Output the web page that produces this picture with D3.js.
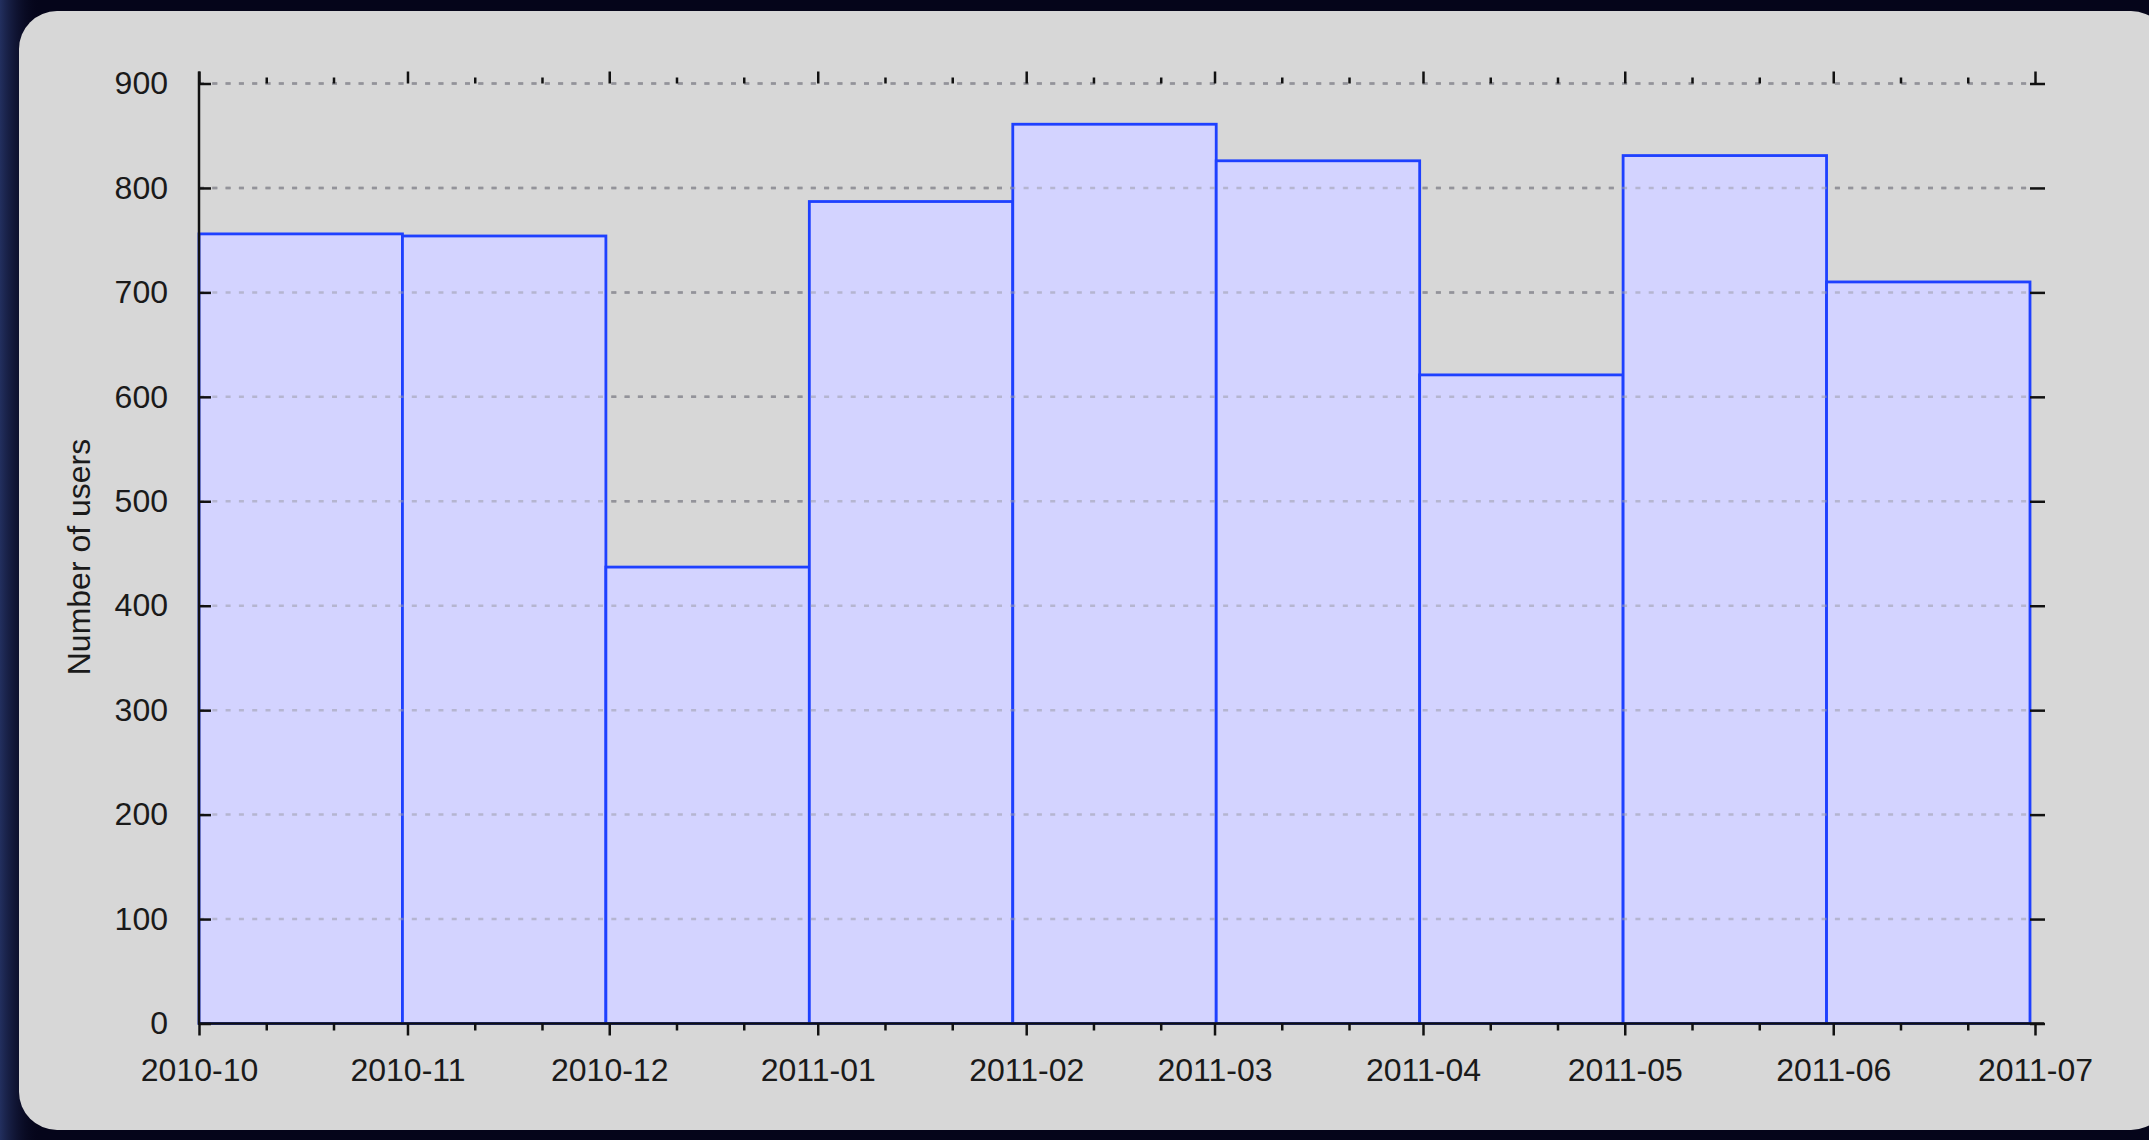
<!DOCTYPE html>
<html>
<head>
<meta charset="utf-8">
<script src="https://cdn.jsdelivr.net/npm/d3@7"></script>
<style>
  html, body { margin: 0; padding: 0; background: #05051a; }
  svg { display: block; }
</style>
</head>
<body>
<svg id="chart"></svg>
<script>
// monthly users, one bar per month
var months = ["2010-10", "2010-11", "2010-12", "2011-01", "2011-02", "2011-03", "2011-04", "2011-05", "2011-06"];
var users = [756, 754, 437, 787, 861, 826, 621, 831, 710];
var yTicks = [0, 100, 200, 300, 400, 500, 600, 700, 800, 900];
var xStart = "2010-10-01";
var xEnd = "2011-07-01";
var yLabel = "Number of users";

var width = 2149, height = 1140;
var plotLeft = 199, plotRight = 2030, axisEnd = 2035, plotTop = 83.5, plotBottom = 1023.5;
var font = "'Liberation Sans', Arial, Helvetica, sans-serif";

var svg = d3.select("#chart").attr("width", width).attr("height", height);

// background + soft glow on the left edge
var defs = svg.append("defs");
var glow = defs.append("linearGradient").attr("id", "glow").attr("x1", 0).attr("x2", 1);
glow.append("stop").attr("offset", 0).attr("stop-color", "#2a3a70").attr("stop-opacity", 0.8);
glow.append("stop").attr("offset", 1).attr("stop-color", "#05051a").attr("stop-opacity", 0);
svg.append("rect").attr("width", width).attr("height", height).attr("fill", "#05051a");
svg.append("rect").attr("width", 40).attr("height", height).attr("fill", "url(#glow)");

// the grey rounded panel
svg.append("rect")
    .attr("x", 19).attr("y", 11)
    .attr("width", width + 20 - 19).attr("height", 1119)
    .attr("rx", 38).attr("ry", 38)
    .attr("fill", "#d7d7d7");

var parse = d3.timeParse("%Y-%m-%d");
var x = d3.scaleTime().domain([parse(xStart), parse(xEnd)]).range([plotLeft, axisEnd]);
var band = d3.scaleBand().domain(months).range([plotLeft, plotRight]).padding(0);
var y = d3.scaleLinear().domain([0, 900]).range([plotBottom, plotTop]);

var gridVals = yTicks.filter(function(d) { return d > 0; });

function drawGrid(color, opacity) {
    svg.append("g").selectAll("line")
        .data(gridVals)
        .enter().append("line")
        .attr("x1", plotLeft).attr("x2", plotRight)
        .attr("y1", function(d) { return y(d); })
        .attr("y2", function(d) { return y(d); })
        .style("stroke", color)
        .style("stroke-opacity", opacity)
        .style("stroke-width", 2.5)
        .style("stroke-dasharray", "5 8.3");
}

// darker grid under the bars
drawGrid("#888888", 1);

// bars
svg.append("g").selectAll("rect")
    .data(months)
    .enter().append("rect")
    .attr("x", function(d) { return band(d); })
    .attr("width", band.bandwidth())
    .attr("y", function(d, i) { return y(users[i]); })
    .attr("height", function(d, i) { return y(0) - y(users[i]); })
    .style("fill", "#d3d3ff")
    .style("stroke", "#1e40ff")
    .style("stroke-width", 2.8);

// faint grid showing through the bars
drawGrid("#9c9caa", 0.55);

// tick dates: month starts are major, the 11th and 21st are minor
var majors = d3.timeMonth.range(parse(xStart), d3.timeDay.offset(parse(xEnd), 1));
var minors = d3.timeDay.range(parse(xStart), parse(xEnd)).filter(function(d) {
    return d.getDate() === 11 || d.getDate() === 21;
});

// bottom axis with labels
var xAxis = svg.append("g")
    .attr("transform", "translate(0," + plotBottom + ")")
    .call(d3.axisBottom(x).tickValues(majors).tickFormat(d3.timeFormat("%Y-%m"))
        .tickSize(12).tickPadding(23));
xAxis.select(".domain").remove();

svg.append("g")
    .attr("transform", "translate(0," + plotBottom + ")")
    .call(d3.axisBottom(x).tickValues(minors).tickFormat("").tickSize(7))
    .select(".domain").remove();

// top ticks, pointing up
svg.append("g")
    .attr("transform", "translate(0," + plotTop + ")")
    .call(d3.axisTop(x).tickValues(majors).tickFormat("").tickSize(12))
    .select(".domain").remove();
svg.append("g")
    .attr("transform", "translate(0," + plotTop + ")")
    .call(d3.axisTop(x).tickValues(minors).tickFormat("").tickSize(6))
    .select(".domain").remove();

// left axis: ticks point inward, labels outside
var yAxis = svg.append("g")
    .attr("transform", "translate(" + plotLeft + ",0)")
    .call(d3.axisLeft(y).tickValues(yTicks).tickSize(-12).tickPadding(31));
yAxis.select(".domain").remove();

// right side ticks only
svg.append("g")
    .attr("transform", "translate(" + plotRight + ",0)")
    .call(d3.axisRight(y).tickValues(yTicks).tickFormat("").tickSize(15))
    .select(".domain").remove();

// axis lines
svg.append("line")
    .attr("x1", plotLeft).attr("x2", plotLeft)
    .attr("y1", plotTop - 12).attr("y2", plotBottom + 1)
    .style("stroke", "#111").style("stroke-width", 2.5);
svg.append("line")
    .attr("x1", plotLeft - 1).attr("x2", 2044)
    .attr("y1", plotBottom).attr("y2", plotBottom)
    .style("stroke", "#111").style("stroke-width", 2.5);

svg.selectAll(".tick line").style("stroke", "#111").style("stroke-width", 2.5);
svg.selectAll(".tick text")
    .style("font-family", font)
    .style("font-size", "32px")
    .style("fill", "#1a1a1a");

// y axis title
svg.append("text")
    .attr("transform", "translate(90," + 557 + ") rotate(-90)")
    .attr("text-anchor", "middle")
    .style("font-family", font)
    .style("font-size", "32px")
    .style("fill", "#1a1a1a")
    .text(yLabel);
</script>
</body>
</html>
